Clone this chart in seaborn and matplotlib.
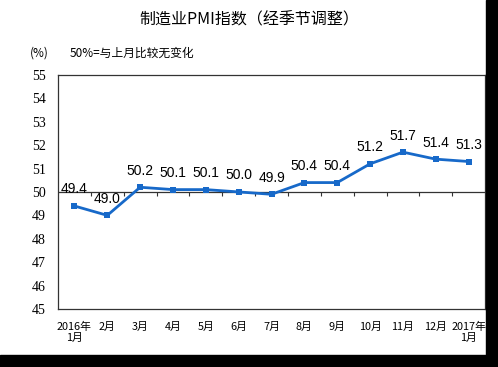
import pandas as pd
import seaborn as sns
import matplotlib.pyplot as plt
from matplotlib.patches import Rectangle

# 制造业PMI 月度数据
months = ['2016年\n1月', '2月', '3月', '4月', '5月', '6月', '7月',
          '8月', '9月', '10月', '11月', '12月', '2017年\n1月']
pmi = [49.4, 49.0, 50.2, 50.1, 50.1, 50.0, 49.9, 50.4, 50.4, 51.2, 51.7, 51.4, 51.3]
yticks = [45, 46, 47, 48, 49, 50, 51, 52, 53, 54, 55]

sns.set_theme(style='white')
plt.rcParams['font.family'] = ['Noto Sans CJK SC', 'DejaVu Sans']
plt.rcParams['text.color'] = 'black'
plt.rcParams['xtick.color'] = 'black'
plt.rcParams['ytick.color'] = 'black'

df = pd.DataFrame({'month': months, 'pmi': pmi})
line_color = '#1769c9'

fig = plt.figure(figsize=(4.98, 3.67), dpi=100)
ax = fig.add_axes([0.1165, 0.158, 0.8575, 0.638])

sns.lineplot(data=df, x='month', y='pmi', sort=False, ax=ax, color=line_color,
             linewidth=2, marker='s', markersize=5, markeredgewidth=0)

ax.set_ylim(45, 55)
ax.set_xlim(-0.5, len(months) - 0.5)
ax.set_yticks(yticks)
ax.set_yticklabels([str(v) for v in yticks], family='Liberation Serif', fontsize=10)
ax.tick_params(axis='y', direction='in', length=3, width=0.8, color='#333333', pad=9)
ax.set_xticks(range(len(months)))
ax.set_xticklabels(months, fontsize=7.8, linespacing=1.15)
ax.tick_params(axis='x', length=0, pad=9)
ax.set_xlabel('')
ax.set_ylabel('')

for s in ax.spines.values():
    s.set_color('#333333')
    s.set_linewidth(0.9)

# 50 基准线及其刻度
ax.axhline(50, color='#333333', linewidth=0.9, zorder=1)
ax.vlines([i + 0.5 for i in range(len(months) - 1)], 49.83, 50,
          color='#333333', linewidth=0.8, zorder=1)

# 数值标签
for i, v in enumerate(pmi):
    ax.annotate(f'{v:.1f}', (i, v), xytext=(0, 9), textcoords='offset points',
                ha='center', va='baseline', fontsize=10, family='Liberation Sans',
                color='black')

fig.text(0.5, 0.945, '制造业PMI指数（经季节调整）', ha='center', va='center', fontsize=11.5)
fig.text(0.078, 0.855, '(%)', ha='center', va='center', fontsize=8.5)
fig.text(0.139, 0.855, '50%=与上月比较无变化', ha='left', va='center', fontsize=8.5)

# 截图边缘的黑边
fig.patches.append(Rectangle((486 / 498, 0), 12 / 498, 1, transform=fig.transFigure,
                             color='black', zorder=10))
fig.patches.append(Rectangle((0, 0), 1, 12 / 367, transform=fig.transFigure,
                             color='black', zorder=10))

plt.savefig('out.png', dpi=100)
plt.close()
